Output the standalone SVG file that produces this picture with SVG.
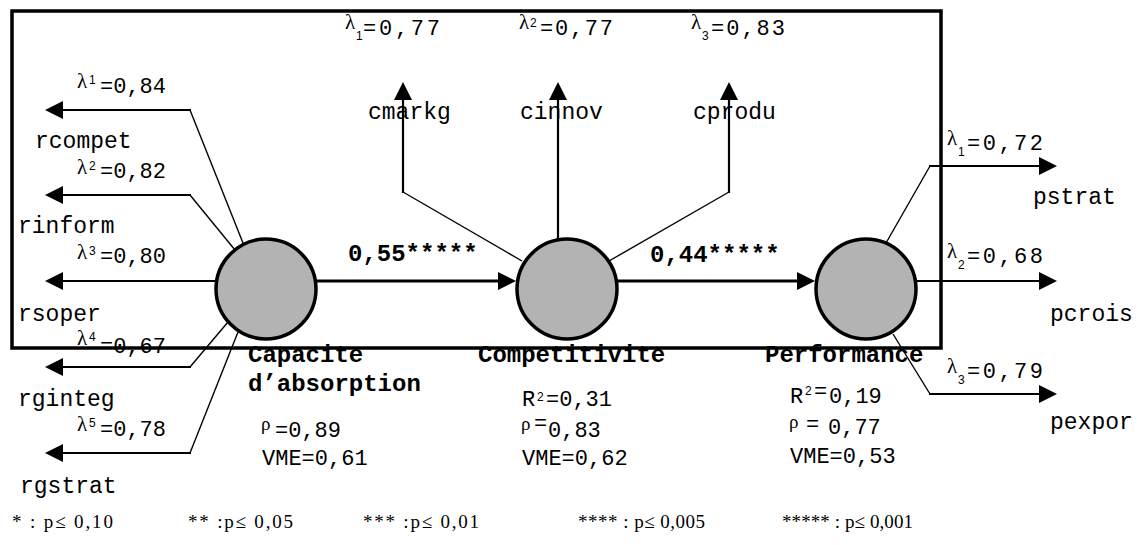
<svg xmlns="http://www.w3.org/2000/svg" width="1139" height="545" viewBox="0 0 1139 545">
<defs>
<style>
.m{font-family:"Liberation Mono","Courier New",monospace;font-size:23px;fill:#000}
.v{font-family:"Liberation Mono","Courier New",monospace;font-size:22px;fill:#000}
.b{font-family:"Liberation Mono","Courier New",monospace;font-size:24px;font-weight:bold;fill:#000}
.g{font-family:"Liberation Serif","Times New Roman",serif;font-size:21px;fill:#000}
.r{font-family:"Liberation Serif","Times New Roman",serif;font-size:19px;fill:#000}
.s{font-family:"Liberation Sans",Arial,sans-serif;font-size:12px;fill:#000}
.l{font-family:"Liberation Serif","Times New Roman",serif;font-size:19px;fill:#000}
.node{fill:#b3b3b3;stroke:#000;stroke-width:3.5}
.thick{fill:none;stroke:#000;stroke-width:3}
.med{fill:none;stroke:#000;stroke-width:2.2}
.thin{fill:none;stroke:#000;stroke-width:1.4}
</style>
<marker id="ah" markerWidth="18" markerHeight="18" refX="14" refY="9" orient="auto" markerUnits="userSpaceOnUse">
<path d="M0,0 L18,9 L0,18 z" fill="#000"/>
</marker>
</defs>
<rect x="12" y="11" width="929" height="337" fill="none" stroke="#000" stroke-width="3.5"/>

<g id="connectors">
<path class="thick" d="M317,281 L512,281" marker-end="url(#ah)"/>
<path class="thick" d="M617,281 L811,281" marker-end="url(#ah)"/>
<path class="thin" d="M243,243 L190,110"/>
<path class="med" d="M191,110 L49,110" marker-end="url(#ah)"/>
<path class="thin" d="M235,250 L190,195"/>
<path class="med" d="M191,195 L49,195" marker-end="url(#ah)"/>
<path class="med" d="M217,281 L49,281" marker-end="url(#ah)"/>
<path class="thin" d="M228,322 L190,367"/>
<path class="med" d="M191,367 L49,367" marker-end="url(#ah)"/>
<path class="thin" d="M238,332 L190,453"/>
<path class="med" d="M191,453 L49,453" marker-end="url(#ah)"/>
<path class="thin" d="M522,261 L403,192"/>
<path class="med" d="M403,193 L403,86" marker-end="url(#ah)"/>
<path class="med" d="M558,240 L558,86" marker-end="url(#ah)"/>
<path class="thin" d="M609,261 L729,192"/>
<path class="med" d="M729,193 L729,86" marker-end="url(#ah)"/>
<path class="thin" d="M886,243 L930,166"/>
<path class="med" d="M929,166 L1053,166" marker-end="url(#ah)"/>
<path class="med" d="M917,281 L1053,281" marker-end="url(#ah)"/>
<path class="thin" d="M893,334 L930,394"/>
<path class="med" d="M929,394 L1053,394" marker-end="url(#ah)"/>
<text class="b" x="348" y="261">0,55*****</text>
<text class="b" x="650" y="262">0,44*****</text>
</g>

<g id="n-capacite">
<circle class="node" cx="266" cy="289" r="50"/>
<text class="b" x="248" y="362">Capacite</text>
<text class="b" x="248" y="391">d’absorption</text>
<text class="r" x="261" y="430">ρ</text>
<text class="v" x="275" y="437">=0,89</text>
<text class="v" x="262" y="465">VME=0,61</text>
</g>

<g id="n-competitivite">
<circle class="node" cx="567" cy="289" r="50"/>
<text class="b" x="478" y="362">Competitivite</text>
<text class="v" x="522" y="406">R</text>
<text class="s" x="537" y="401">2</text>
<text class="v" x="546" y="406">=0,31</text>
<text class="r" x="521" y="430">ρ</text>
<text class="v" x="534" y="430">=</text>
<text class="v" x="548" y="437">0,83</text>
<text class="v" x="522" y="465">VME=0,62</text>
</g>

<g id="n-performance">
<circle class="node" cx="866" cy="289" r="50"/>
<text class="b" x="765" y="362">Performance</text>
<text class="v" x="790" y="403">R</text>
<text class="s" x="805" y="395">2</text>
<text class="v" x="814" y="398">=</text>
<text class="v" x="829" y="403">0,19</text>
<text class="r" x="789" y="428">ρ</text>
<text class="v" x="806" y="431">=</text>
<text class="v" x="828" y="434">0,77</text>
<text class="v" x="790" y="463">VME=0,53</text>
</g>

<g id="i-rcompet">
<text class="g" x="77" y="88">λ</text><text class="s" x="89" y="84">1</text>
<text class="v" x="100" y="93">=0,84</text>
<text class="m" x="35" y="148">rcompet</text>
</g>
<g id="i-rinform">
<text class="g" x="77" y="174">λ</text><text class="s" x="89" y="170">2</text>
<text class="v" x="100" y="178">=0,82</text>
<text class="m" x="18" y="233">rinform</text>
</g>
<g id="i-rsoper">
<text class="g" x="77" y="259">λ</text><text class="s" x="89" y="255">3</text>
<text class="v" x="100" y="263">=0,80</text>
<text class="m" x="18" y="321">rsoper</text>
</g>
<g id="i-rginteg">
<text class="g" x="77" y="345">λ</text><text class="s" x="89" y="341">4</text>
<text class="v" x="100" y="353">=0,67</text>
<text class="m" x="18" y="406">rginteg</text>
</g>
<g id="i-rgstrat">
<text class="g" x="77" y="431">λ</text><text class="s" x="89" y="427">5</text>
<text class="v" x="100" y="436">=0,78</text>
<text class="m" x="20" y="493">rgstrat</text>
</g>

<g id="i-cmarkg">
<text class="g" x="345" y="29">λ</text><text class="s" x="356" y="40">1</text>
<text class="v" x="363" y="35" textLength="77" lengthAdjust="spacing">=0,77</text>
<text class="m" x="368" y="119">cmarkg</text>
</g>
<g id="i-cinnov">
<text class="g" x="519" y="29">λ</text><text class="s" x="530" y="27">2</text>
<text class="v" x="540" y="35" textLength="73" lengthAdjust="spacing">=0,77</text>
<text class="m" x="520" y="119">cinnov</text>
</g>
<g id="i-cprodu">
<text class="g" x="691" y="29">λ</text><text class="s" x="702" y="40">3</text>
<text class="v" x="711" y="35" textLength="74" lengthAdjust="spacing">=0,83</text>
<text class="m" x="693" y="119">cprodu</text>
</g>

<g id="i-pstrat">
<text class="g" x="947" y="145">λ</text><text class="s" x="958" y="156">1</text>
<text class="v" x="967" y="150" textLength="76" lengthAdjust="spacing">=0,72</text>
<text class="m" x="1033" y="204">pstrat</text>
</g>
<g id="i-pcrois">
<text class="g" x="947" y="258">λ</text><text class="s" x="958" y="269">2</text>
<text class="v" x="967" y="263" textLength="76" lengthAdjust="spacing">=0,68</text>
<text class="m" x="1050" y="321">pcrois</text>
</g>
<g id="i-pexpor">
<text class="g" x="947" y="373">λ</text><text class="s" x="958" y="384">3</text>
<text class="v" x="967" y="378" textLength="76" lengthAdjust="spacing">=0,79</text>
<text class="m" x="1050" y="429">pexpor</text>
</g>

<g id="legend">
<text class="l" x="12" y="528" textLength="101" lengthAdjust="spacing">* : p≤ 0,10</text>
<text class="l" x="188" y="528" textLength="105" lengthAdjust="spacing">** :p≤ 0,05</text>
<text class="l" x="363" y="528" textLength="116" lengthAdjust="spacing">*** :p≤ 0,01</text>
<text class="l" x="578" y="528" textLength="127" lengthAdjust="spacing">**** : p≤ 0,005</text>
<text class="l" x="782" y="528" textLength="131" lengthAdjust="spacing">***** : p≤ 0,001</text>
</g>
</svg>
